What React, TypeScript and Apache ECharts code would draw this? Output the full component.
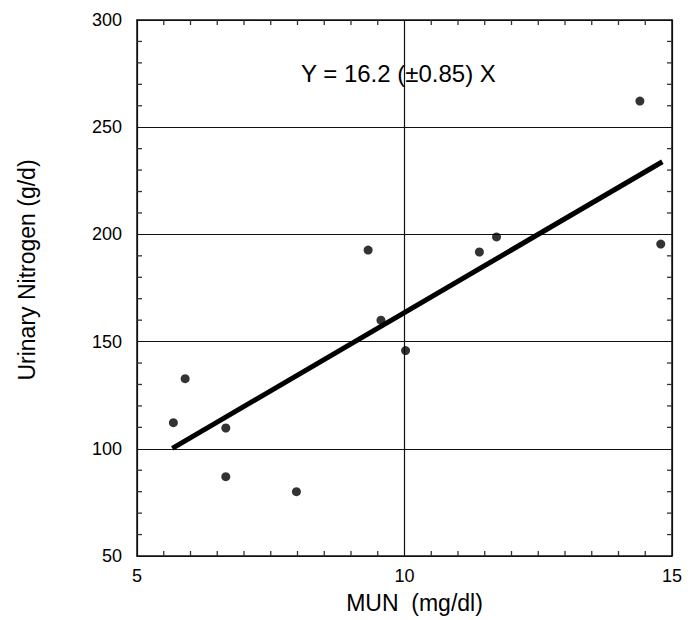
import React, { useEffect, useRef } from "react";
import * as echarts from "echarts";

const munX = [5.68, 5.9, 6.66, 6.66, 7.98, 9.32, 9.56, 10.02, 11.4, 11.72, 14.4, 14.79];
const urinaryN = [112.2, 132.7, 109.7, 87, 80, 192.7, 160, 145.8, 191.8, 198.8, 262.2, 195.5];
const fitX = [5.66, 14.82];
const fitY = [100.2, 233.9];
const xTicks = [5, 10, 15];
const yTicks = [50, 100, 150, 200, 250, 300];
const xMinorTicks = [5.5, 6, 6.5, 7, 7.5, 8, 8.5, 9, 9.5, 10.5, 11, 11.5, 12, 12.5, 13, 13.5, 14, 14.5];
const yMinorTicks = [60, 70, 80, 90, 110, 120, 130, 140, 160, 170, 180, 190, 210, 220, 230, 240, 260, 270, 280, 290];
const equationText = "Y = 16.2 (\u00b10.85) X";
const xTitle = "MUN  (mg/dl)";
const yTitle = "Urinary Nitrogen (g/d)";

const FONT = "Liberation Sans, Arial, Helvetica, sans-serif";

export default function App() {
  const ref = useRef<HTMLDivElement>(null);
  useEffect(() => {
    document.body.style.margin = "0";
    const chart = echarts.init(ref.current!, undefined, { renderer: "svg" });
    const xMin = xTicks[0];
    const xMax = xTicks[xTicks.length - 1];
    const yMin = yTicks[0];
    const yMax = yTicks[yTicks.length - 1];
    const axisLine = { show: true, lineStyle: { color: "#111", width: 1.5 } };
    const tickStyle = { stroke: "#333", lineWidth: 1.3 };
    const TL = 5;
    chart.setOption({
      animation: false,
      backgroundColor: "#fff",
      grid: { left: 137, right: 22, top: 20, bottom: 64 },
      xAxis: [
        {
          type: "value",
          min: xMin,
          max: xMax,
          interval: 5,
          axisLine,
          axisTick: { show: false },
          axisLabel: { color: "#000", fontSize: 18, fontFamily: FONT, margin: 11 },
          splitLine: { show: true, lineStyle: { color: "#111", width: 1.2 } },
          name: xTitle,
          nameLocation: "middle",
          nameGap: 35,
          nameTextStyle: { color: "#000", fontSize: 23, fontFamily: FONT, padding: [0, 0, 0, 20] },
        },
        {
          type: "value",
          position: "top",
          min: xMin,
          max: xMax,
          interval: 5,
          axisLine,
          axisTick: { show: false },
          axisLabel: { show: false },
          splitLine: { show: false },
        },
      ],
      yAxis: [
        {
          type: "value",
          min: yMin,
          max: yMax,
          interval: 50,
          axisLine,
          axisTick: { show: false },
          axisLabel: { color: "#000", fontSize: 18, fontFamily: FONT, margin: 15 },
          splitLine: { show: true, lineStyle: { color: "#111", width: 1.2 } },
          name: yTitle,
          nameLocation: "middle",
          nameGap: 99,
          nameRotate: 90,
          nameTextStyle: { color: "#000", fontSize: 23, fontFamily: FONT, padding: [0, 0, 0, 36] },
        },
        {
          type: "value",
          position: "right",
          min: yMin,
          max: yMax,
          interval: 50,
          axisLine,
          axisTick: { show: false },
          axisLabel: { show: false },
          splitLine: { show: false },
        },
      ],
      series: [
        {
          type: "custom",
          xAxisIndex: 0,
          yAxisIndex: 0,
          silent: true,
          clip: false,
          data: xMinorTicks.map((v) => [v, yMin]),
          renderItem: (_p: any, api: any) => {
            const v = api.value(0);
            const b = api.coord([v, yMin]);
            const t = api.coord([v, yMax]);
            return {
              type: "group",
              children: [
                { type: "line", shape: { x1: b[0], y1: b[1], x2: b[0], y2: b[1] - TL }, style: tickStyle },
                { type: "line", shape: { x1: t[0], y1: t[1], x2: t[0], y2: t[1] + TL }, style: tickStyle },
              ],
            };
          },
          z: 2,
        },
        {
          type: "custom",
          xAxisIndex: 0,
          yAxisIndex: 0,
          silent: true,
          clip: false,
          data: yMinorTicks.map((v) => [xMin, v]),
          renderItem: (_p: any, api: any) => {
            const v = api.value(1);
            const l = api.coord([xMin, v]);
            const r = api.coord([xMax, v]);
            return {
              type: "group",
              children: [
                { type: "line", shape: { x1: l[0], y1: l[1], x2: l[0] + TL, y2: l[1] }, style: tickStyle },
                { type: "line", shape: { x1: r[0], y1: r[1], x2: r[0] - TL, y2: r[1] }, style: tickStyle },
              ],
            };
          },
          z: 2,
        },
        {
          type: "line",
          xAxisIndex: 0,
          yAxisIndex: 0,
          data: fitX.map((x, i) => [x, fitY[i]]),
          showSymbol: false,
          lineStyle: { color: "#000", width: 5 },
          z: 3,
        },
        {
          type: "scatter",
          xAxisIndex: 0,
          yAxisIndex: 0,
          data: munX.map((x, i) => [x, urinaryN[i]]),
          symbol: "circle",
          symbolSize: 9,
          itemStyle: { color: "#000" },
          z: 4,
        },
      ],
      graphic: [
        {
          type: "text",
          left: 301,
          top: 61,
          style: { text: equationText, fontSize: 24, fontFamily: FONT, fill: "#000" },
        },
      ],
    });
    return () => chart.dispose();
  }, []);
  return <div ref={ref} style={{ width: 694, height: 620 }} />;
}
